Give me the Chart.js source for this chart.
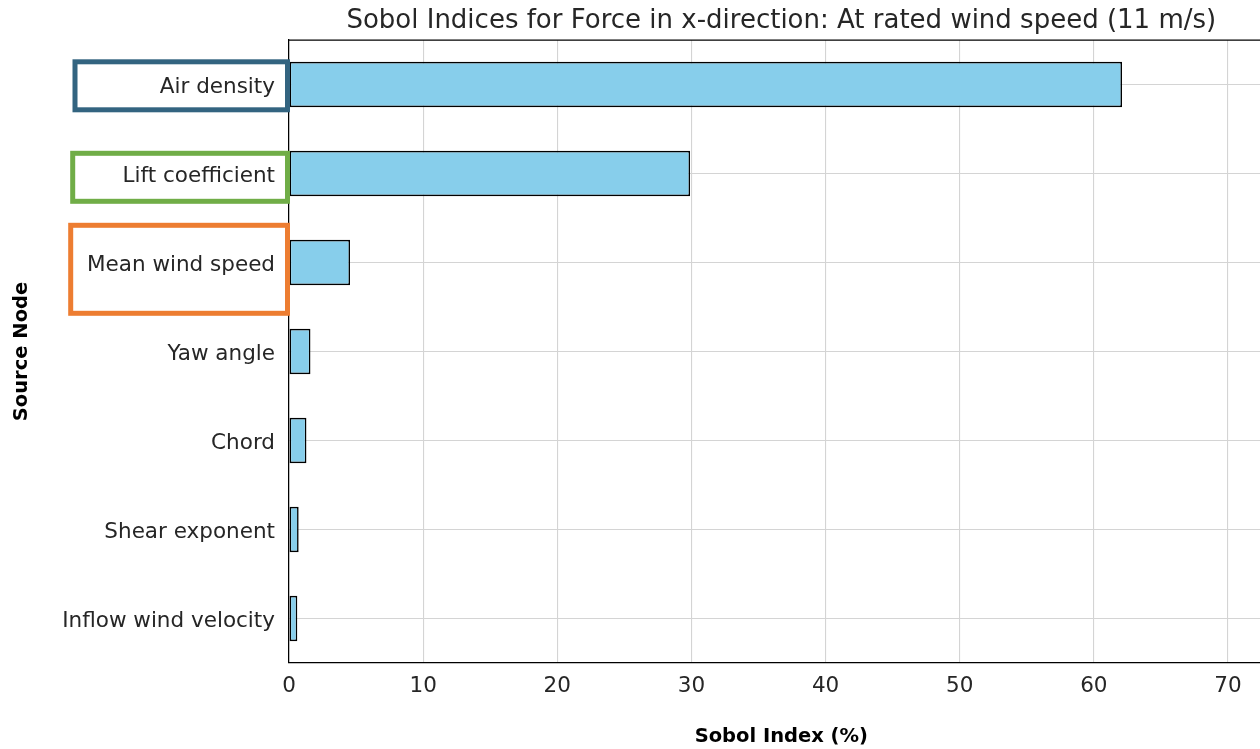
<!DOCTYPE html>
<html>
<head>
<meta charset="utf-8">
<title>Sobol Indices for Force in x-direction</title>
<script src="https://cdn.jsdelivr.net/npm/chart.js@4/dist/chart.umd.min.js"></script>
<style>
  html, body { margin: 0; padding: 0; background: #ffffff; overflow: hidden; }
  #wrap { position: relative; width: 1280px; height: 749px; }
</style>
</head>
<body>
<div id="wrap"><canvas id="chart"></canvas></div>
<script>
// Source nodes, ordered from largest to smallest contribution
const sourceNodes = [
  'Air density',
  'Lift coefficient',
  'Mean wind speed',
  'Yaw angle',
  'Chord',
  'Shear exponent',
  'Inflow wind velocity'
];

// First-order Sobol index of each node for the x-direction force (%)
const sobolIndex = [62.1, 29.9, 4.55, 1.6, 1.3, 0.72, 0.62];

// Tick values on the index axis
const indexTicks = [0, 10, 20, 30, 40, 50, 60, 70];

// Outlined label boxes for the dominant nodes (left edge, offsets from the row centre)
const highlightBoxes = [
  { node: 'Air density',      color: '#336480', left: 75,   right: 287.5, up: 22.7, down: 25.3 },
  { node: 'Lift coefficient', color: '#70ad47', left: 72.7, right: 287.5, up: 20.2, down: 27.8 },
  { node: 'Mean wind speed',  color: '#ed7d31', left: 70.7, right: 287.5, up: 37.2, down: 50.8 }
];

const FONT = "'DejaVu Sans', 'Liberation Sans', sans-serif";
const TEXT = '#262626';

// Draws the top spine of the axes frame
const topSpine = {
  id: 'topSpine',
  afterDatasetsDraw(chart) {
    const { ctx, chartArea } = chart;
    ctx.save();
    ctx.strokeStyle = '#000000';
    ctx.lineWidth = 1.25;
    ctx.beginPath();
    ctx.moveTo(chartArea.left, chartArea.top);
    ctx.lineTo(chartArea.right, chartArea.top);
    ctx.stroke();
    ctx.restore();
  }
};

// Draws coloured frames around selected category labels
const labelBoxes = {
  id: 'labelBoxes',
  afterDraw(chart) {
    const { ctx } = chart;
    const y = chart.scales.y;
    ctx.save();
    ctx.lineWidth = 5;
    highlightBoxes.forEach(b => {
      const idx = sourceNodes.indexOf(b.node);
      const cy = y.getPixelForValue(idx);
      ctx.strokeStyle = b.color;
      ctx.strokeRect(b.left, cy - b.up, b.right - b.left, b.up + b.down);
    });
    ctx.restore();
  }
};

new Chart(document.getElementById('chart'), {
  type: 'bar',
  data: {
    labels: sourceNodes,
    datasets: [{
      data: sobolIndex,
      backgroundColor: '#87ceeb',
      borderColor: '#000000',
      borderWidth: 1.6,
      borderSkipped: false,
      barPercentage: 0.51,
      categoryPercentage: 1.0
    }]
  },
  options: {
    indexAxis: 'y',
    responsive: true,
    maintainAspectRatio: false,
    animation: false,
    layout: { padding: { left: 0, right: 6.4, top: 0, bottom: 0 } },
    plugins: {
      legend: { display: false },
      tooltip: { enabled: false },
      title: {
        display: true,
        fullSize: false,
        text: 'Sobol Indices for Force in x-direction: At rated wind speed (11 m/s)',
        color: TEXT,
        font: { family: FONT, size: 26, weight: 'normal', lineHeight: 1.2 },
        padding: { top: 6, bottom: 2.8 }
      }
    },
    scales: {
      x: {
        type: 'linear',
        min: 0,
        max: 73.4,
        afterBuildTicks(scale) {
          scale.ticks = indexTicks.map(v => ({ value: v }));
        },
        afterFit(scale) { scale.height = 86; },
        ticks: {
          color: TEXT,
          font: { family: FONT, size: 21.5, lineHeight: 1.2 },
          padding: 11,
          maxRotation: 0,
          autoSkip: false
        },
        grid: { color: '#d4d4d4', lineWidth: 1.1, drawTicks: false },
        border: { display: true, color: '#000000', width: 1.25 },
        title: {
          display: true,
          text: 'Sobol Index (%)',
          color: '#000000',
          font: { family: FONT, size: 19.5, weight: 'bold', lineHeight: 1.2 },
          padding: { top: 0, bottom: 0.3 }
        }
      },
      y: {
        type: 'category',
        offset: true,
        afterFit(scale) { scale.width = 289; },
        ticks: {
          color: TEXT,
          font: { family: FONT, size: 21.5, lineHeight: 1.2 },
          padding: 14,
          labelOffset: 2.5,
          autoSkip: false
        },
        grid: { color: '#d4d4d4', lineWidth: 1.1, drawTicks: false, offset: false },
        border: { display: true, color: '#000000', width: 1.25 },
        title: {
          display: true,
          text: 'Source Node',
          color: '#000000',
          font: { family: FONT, size: 19.5, weight: 'bold', lineHeight: 1.2 },
          padding: { top: 10, bottom: 0 }
        }
      }
    }
  },
  plugins: [topSpine, labelBoxes]
});
</script>
</body>
</html>
